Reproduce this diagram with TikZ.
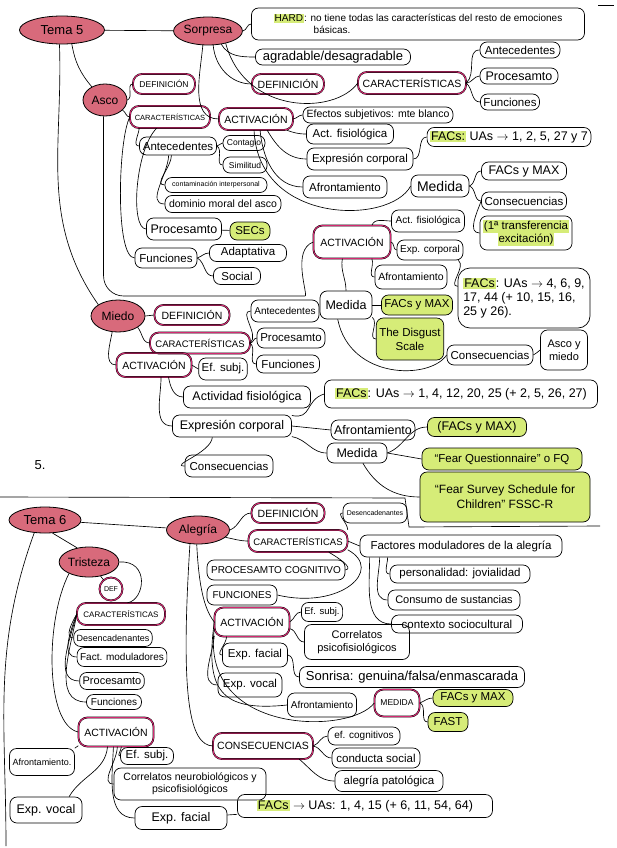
\documentclass[tikz,border=0pt]{standalone}
\usepackage{fontspec}
\setmainfont{Liberation Sans}
\usepackage{xcolor}
\usepackage{tikz}
\usetikzlibrary{shapes.geometric}
\definecolor{rojo}{HTML}{D86A7B}
\definecolor{rosa}{HTML}{D42A72}
\definecolor{lima}{HTML}{D6EC78}
\newcommand{\marca}[1]{{\setlength{\fboxsep}{1pt}\colorbox{lima}{#1}}}

\begin{document}
\begin{tikzpicture}[x=1pt,y=-1pt,
  caja/.style={draw,rounded corners=7pt,line width=0.7pt,inner xsep=3pt,inner ysep=1.5pt,minimum height=16pt,align=center,font=\fontsize{11.5}{13}\selectfont},
  titulo/.style={caja,double=rosa,double distance=1pt,line width=0.4pt,rounded corners=9pt,font=\fontsize{10.5}{12}\selectfont},
  emocion/.style={ellipse,draw,fill=rojo,line width=0.8pt,inner sep=0pt,font=\fontsize{12}{13}\selectfont},
  verde/.style={caja,fill=lima},
  justa/.style={font=\fontsize{10}{11}\selectfont},
  chica/.style={font=\fontsize{8.5}{10}\selectfont},
  mini/.style={font=\fontsize{7}{8}\selectfont},
  grande/.style={font=\fontsize{12.5}{14}\selectfont},
  rama/.style={line width=0.65pt}]
\fill[white] (0,0) rectangle (617,848);
\useasboundingbox (0,0) rectangle (617,848);

\node[emocion,minimum width=85,minimum height=28,font=\fontsize{13}{14}\selectfont] (t5) at (62,30) {Tema 5};
\node[emocion,minimum width=68,minimum height=28] (sorp) at (208,31) {Sorpresa};
\node[emocion,minimum width=44,minimum height=32] (asco) at (105,100) {Asco};
\node[emocion,minimum width=54,minimum height=32] (miedo) at (118,316) {Miedo};

\node[caja,minimum width=333,minimum height=32,align=left,font=\fontsize{10}{12}\selectfont] (hard) at (418,24) {\marca{HARD}: no tiene todas las características del resto de emociones\\\hspace*{4em}básicas.};
\node[caja,minimum width=155,font=\fontsize{13}{14}\selectfont] (agr) at (333,57) {agradable/desagradable};
\node[titulo,minimum width=72,minimum height=20] (sDef) at (288,84) {DEFINICIÓN};
\node[titulo,minimum width=108,minimum height=22] (sCar) at (412,83) {CARACTERÍSTICAS};
\node[caja,minimum width=80] (sAnt) at (520,50) {Antecedentes};
\node[caja,minimum width=78,grande] (sPro) at (519,76) {Procesamto};
\node[caja,minimum width=56] (sFun) at (510,102) {Funciones};
\node[titulo,minimum width=74,minimum height=22] (sAct) at (256,119) {ACTIVACIÓN};
\node[caja,minimum width=150,font=\fontsize{10.5}{12}\selectfont] (sEfe) at (378,115) {Efectos subjetivos: mte blanco};
\node[caja,minimum width=87,minimum height=20] (sFis) at (350,134) {Act. fisiológica};
\node[caja,minimum width=106,minimum height=22] (sExp) at (360,159) {Expresión corporal};
\node[caja,minimum width=84,minimum height=22] (sAfr) at (345,187) {Afrontamiento};
\node[caja,minimum width=162,minimum height=19,grande] (sFacs) at (509,137) {\marca{FACs:} UAs $\to$ 1, 2, 5, 27 y 7};
\node[caja,minimum width=58,minimum height=22,font=\fontsize{14}{15}\selectfont] (sMed) at (440,186) {Medida};
\node[caja,minimum width=85,minimum height=18,grande] (sMax) at (524,171) {FACs y MAX};
\node[caja,minimum width=85,minimum height=18] (sCon) at (524,201) {Consecuencias};
\node[caja,minimum width=88,minimum height=34] (sTra) at (526,233) {\marca{(1ª transferencia}\\\marca{excitación)}};

\node[titulo,minimum width=62,minimum height=20,chica] (aDef) at (164,84) {DEFINICIÓN};
\node[titulo,minimum width=80,minimum height=22,font=\fontsize{7.5}{8.5}\selectfont] (aCar) at (170,117) {CARACTERÍSTICAS};
\node[caja,minimum width=77,minimum height=18] (aAnt) at (178,146) {Antecedentes};
\node[caja,minimum width=42,minimum height=15,chica] (aCont) at (244,143) {Contagio};
\node[caja,minimum width=44,minimum height=16,chica] (aSim) at (245,165) {Similitud};
\node[caja,minimum width=102,minimum height=15,mini] (aCtm) at (216,185) {contaminación interpersonal};
\node[caja,minimum width=116,minimum height=17,font=\fontsize{10.5}{12}\selectfont] (aDom) at (223,204) {dominio moral del asco};
\node[caja,minimum width=75,minimum height=22,grande] (aPro) at (184,229) {Procesamto};
\node[verde,minimum width=40,minimum height=18] (aSecs) at (250,231) {SECs};
\node[caja,minimum width=62,minimum height=20] (aFun) at (166,258) {Funciones};
\node[caja,minimum width=77,minimum height=17] (aAda) at (248,253) {Adaptativa};
\node[caja,minimum width=47,minimum height=17] (aSoc) at (237,276) {Social};
\node[titulo,minimum width=77,minimum height=33] (aAct) at (352,242) {ACTIVACIÓN};
\node[caja,minimum width=73,minimum height=22,justa] (aFis) at (428,221) {Act. fisiológica};
\node[caja,minimum width=66,minimum height=20,justa] (aExp) at (430,250) {Exp. corporal};
\node[caja,minimum width=72,minimum height=24,font=\fontsize{10.5}{12}\selectfont] (aAfr) at (411,277) {Afrontamiento};
\node[caja,minimum width=52,minimum height=28,grande] (aMed) at (346,305) {Medida};
\node[caja,minimum width=132,minimum height=60,align=left,grande,rounded corners=12pt] (aFacs) at (524,298) {\marca{FACs}: UAs $\to$ 4, 6, 9,\\17, 44 (+ 10, 15, 16,\\25 y 26).};
\node[verde,minimum width=70,minimum height=20] (aMax) at (417,305) {FACs y MAX};
\node[verde,minimum width=65,minimum height=42,font=\fontsize{11.5}{14}\selectfont] (aDis) at (410,339) {The Disgust\\Scale};
\node[caja,minimum width=86,minimum height=20] (aCon) at (490,355) {Consecuencias};
\node[caja,minimum width=47,minimum height=40,font=\fontsize{11}{13}\selectfont] (aAym) at (564,350) {Asco y\\miedo};

\node[titulo,minimum width=75,minimum height=20] (mDef) at (192,315) {DEFINICIÓN};
\node[titulo,minimum width=100,minimum height=21,font=\fontsize{9.5}{11}\selectfont] (mCar) at (200,343) {CARACTERÍSTICAS};
\node[titulo,minimum width=75,minimum height=24] (mAct) at (154,365) {ACTIVACIÓN};
\node[caja,minimum width=68,minimum height=22,justa] (mAnt) at (285,311) {Antecedentes};
\node[caja,minimum width=68,minimum height=20] (mPro) at (291,338) {Procesamto};
\node[caja,minimum width=63,minimum height=18] (mFun) at (288,364) {Funciones};
\node[caja,minimum width=47,minimum height=22] (mEfs) at (223,369) {Ef. subj.};
\node[caja,minimum width=127,minimum height=22,grande] (mFis) at (247,397) {Actividad fisiológica};
\node[caja,minimum width=119,minimum height=22,grande] (mExp) at (232,426) {Expresión corporal};
\node[caja,minimum width=88,minimum height=22] (mCon) at (229,466) {Consecuencias};
\node[caja,minimum width=273,minimum height=28,font=\fontsize{12.5}{14}\selectfont] (mFacs) at (461,394) {\marca{FACs}: UAs $\to$ 1, 4, 12, 20, 25 (+ 2, 5, 26, 27)};
\node[caja,minimum width=83,minimum height=20,grande] (mAfr) at (373,430) {Afrontamiento};
\node[caja,minimum width=60,minimum height=20,grande] (mMed) at (357,453) {Medida};
\node[verde,minimum width=99,minimum height=19,grande] (mMax) at (477,427) {(FACs y MAX)};
\node[verde,minimum width=160,minimum height=22] (mFq) at (502,459) {“Fear Questionnaire” o FQ};
\node[verde,minimum width=170,minimum height=50,font=\fontsize{12}{15}\selectfont] (mFs) at (505,497) {“Fear Survey Schedule for\\Children” FSSC-R};
\node[font=\fontsize{13}{14}\selectfont] (num) at (40,465) {5.};

\node[emocion,minimum width=72,minimum height=26,font=\fontsize{13}{14}\selectfont] (t6) at (45,520) {Tema 6};
\node[emocion,minimum width=63,minimum height=28] (aleg) at (198,530) {Alegría};
\node[emocion,minimum width=58,minimum height=30] (tris) at (89,562) {Tristeza};

\node[titulo,minimum width=73,minimum height=20] (gDef) at (288,513) {DEFINICIÓN};
\node[caja,minimum width=64,minimum height=20,mini] (gDes) at (375,513) {Desencadenantes};
\node[titulo,minimum width=99,minimum height=22,font=\fontsize{9.5}{11}\selectfont] (gCar) at (298,541) {CARACTERÍSTICAS};
\node[caja,minimum width=202,minimum height=22,font=\fontsize{11.5}{13}\selectfont] (gFac) at (461,546) {Factores moduladores de la alegría};
\node[caja,minimum width=140,minimum height=18] (gPer) at (460,574) {personalidad: jovialidad};
\node[caja,minimum width=132,minimum height=20,font=\fontsize{11}{12}\selectfont] (gSus) at (454,600) {Consumo de sustancias};
\node[caja,minimum width=131,minimum height=18] (gCtx) at (457,624) {contexto sociocultural};
\node[caja,minimum width=138,minimum height=20,justa] (gPro) at (276,570) {PROCESAMTO COGNITIVO};
\node[caja,minimum width=70,minimum height=20,justa] (gFun) at (242,595) {FUNCIONES};
\node[titulo,minimum width=75,minimum height=29] (gAct) at (252,622) {ACTIVACIÓN};
\node[caja,minimum width=41,minimum height=19,font=\fontsize{9.5}{11}\selectfont] (gEfs) at (322,612) {Ef. subj.};
\node[caja,minimum width=105,minimum height=35,font=\fontsize{11}{12.5}\selectfont] (gCor) at (357,642) {Correlatos\\psicofisiológicos};
\node[caja,minimum width=65,minimum height=24] (gExf) at (255,655) {Exp. facial};
\node[caja,minimum width=64,minimum height=24] (gExv) at (250,685) {Exp. vocal};
\node[caja,minimum width=225,minimum height=21,font=\fontsize{13}{14}\selectfont] (gSon) at (412,677) {Sonrisa: genuina/falsa/enmascarada};
\node[caja,minimum width=69,minimum height=24,justa] (gAfr) at (322,705) {Afrontamiento};
\node[titulo,minimum width=45,minimum height=27,chica] (gMed) at (397,703) {MEDIDA};
\node[verde,minimum width=80,minimum height=17] (gMax) at (473,698) {FACs y MAX};
\node[verde,minimum width=40,minimum height=19] (gFast) at (448,722) {FAST};
\node[titulo,minimum width=100,minimum height=26] (gCsc) at (263,746) {CONSECUENCIAS};
\node[caja,minimum width=72,minimum height=18,justa] (gCog) at (364,736) {ef. cognitivos};
\node[caja,minimum width=88,minimum height=20] (gSoc) at (376,758) {conducta social};
\node[caja,minimum width=108,minimum height=21] (gPat) at (389,781) {alegría patológica};

\node[titulo,circle,minimum size=23,inner sep=0pt,mini] (tDef) at (111,589) {DEF};
\node[titulo,minimum width=88,minimum height=22,font=\fontsize{8}{9}\selectfont] (tCar) at (121,614) {CARACTERÍSTICAS};
\node[caja,minimum width=73,minimum height=17,font=\fontsize{9}{10}\selectfont] (tDes) at (113,638) {Desencadenantes};
\node[caja,minimum width=89,minimum height=19,justa] (tFac) at (122,657) {Fact. moduladores};
\node[caja,minimum width=63,minimum height=17,font=\fontsize{11}{12}\selectfont] (tPro) at (112,681) {Procesamto};
\node[caja,minimum width=55,minimum height=15,justa] (tFun) at (114,702) {Funciones};
\node[titulo,minimum width=75,minimum height=29] (tAct) at (116,732) {ACTIVACIÓN};
\node[caja,minimum width=53,minimum height=17] (tEfs) at (147,756) {Ef. subj.};
\node[caja,minimum width=152,minimum height=32,font=\fontsize{10.5}{12}\selectfont] (tCor) at (190,784) {Correlatos neurobiológicos y\\psicofisiológicos};
\node[caja,minimum width=92,minimum height=23,grande] (tExf) at (181,818) {Exp. facial};
\node[caja,minimum width=255,minimum height=23,font=\fontsize{12.5}{14}\selectfont] (tFacs) at (365,806) {\marca{FACs} $\to$ UAs: 1, 4, 15 (+ 6, 11, 54, 64)};
\node[caja,minimum width=65,minimum height=27,font=\fontsize{9}{10}\selectfont] (tAfr) at (42,762) {Afrontamiento.};
\node[caja,minimum width=72,minimum height=26,grande] (tExv) at (46,810) {Exp. vocal};
\coordinate (finT6) at (6,846);

\draw[rama] (t5) -- (sorp);
\draw[rama] (t5.-55) to[out=-80,in=130] (asco.135);
\draw[rama] (t5.-100) to[out=-88,in=125] (miedo.150);
\draw[rama] (sorp.east) to[out=10,in=180] (hard.west);
\draw[rama] (sorp.-45) to[out=-60,in=180] (agr.west);
\draw[rama] (sorp.-70) to[out=-85,in=180] (sDef.west);
\draw[rama] (sorp.-35) .. controls (245,115) and (335,115) .. (sCar.west);
\draw[rama] (sorp.-110) to[out=-95,in=180] (sAct.west);
\draw[rama] (sCar.east) to[out=40,in=180] (sAnt.west);
\draw[rama] (sCar.east) to[out=0,in=180] (sPro.west);
\draw[rama] (sCar.east) to[out=-40,in=180] (sFun.west);
\draw[rama] (sAct.east) to[out=10,in=180] (sEfe.west);
\draw[rama] (sAct.-20) to[out=-20,in=180] (sFis.west);
\draw[rama] (sAct.-45) to[out=-60,in=180] (sExp.west);
\draw[rama] (sAct.-70) to[out=-85,in=180] (sAfr.west);
\draw[rama] (sAct.-100) .. controls (258,225) and (390,225) .. (sMed.west);
\draw[rama] (sExp.east) to[out=0,in=180] (sFacs.west);
\draw[rama] (sMed.east) to[out=20,in=180] (sMax.west);
\draw[rama] (sMed.east) to[out=-20,in=180] (sCon.west);
\draw[rama] (sCon.west) to[out=-110,in=180] (sTra.west);

\draw[rama] (asco.east) to[out=20,in=180] (aDef.west);
\draw[rama] (asco.-30) to[out=-30,in=180] (aCar.west);
\draw[rama,rounded corners=20pt] (asco.-95) |- (285,296) to[out=0,in=200] (aAct.west);
\draw[rama] (aCar.200) to[out=-95,in=180] (aAnt.west);
\draw[rama] (aCar.220) .. controls (135,150) and (130,229) .. (aPro.west);
\draw[rama] (aCar.west) .. controls (118,140) and (115,258) .. (aFun.west);
\draw[rama] (aAnt.east) to[out=0,in=180] (aCont.west);
\draw[rama] (aAnt.east) to[out=-30,in=180] (aSim.west);
\draw[rama] (aAnt.-125) to[out=-90,in=180] (aCtm.west);
\draw[rama] (aAnt.-135) to[out=-92,in=180] (aDom.west);
\draw[rama] (aPro) -- (aSecs);
\draw[rama] (aFun.east) to[out=20,in=180] (aAda.west);
\draw[rama] (aFun.east) to[out=-30,in=180] (aSoc.west);
\draw[rama] (aAct.40) to[out=70,in=180] (aFis.west);
\draw[rama] (aAct.east) to[out=0,in=180] (aExp.west);
\draw[rama] (aAct.-40) to[out=-70,in=180] (aAfr.west);
\draw[rama] (aAct.-120) to[out=-100,in=90] (aMed.north);
\draw[rama] (aExp.-20) to[out=-40,in=180] (aFacs.170);
\draw[rama] (aMed.east) -- (aMax.west);
\draw[rama] (aMed.-25) to[out=-40,in=180] (aDis.west);
\draw[rama] (aMed.-120) .. controls (350,380) and (430,380) .. (aCon.west);
\draw[rama] (aCon.east) to[out=10,in=200] (aAym.west);

\draw[rama] (miedo.east) -- (mDef.west);
\draw[rama] (miedo.-30) to[out=-50,in=180] (mCar.west);
\draw[rama] (miedo.-110) to[out=-100,in=180] (mAct.west);
\draw[rama] (mCar.east) to[out=40,in=180] (mAnt.west);
\draw[rama] (mCar.east) to[out=0,in=180] (mPro.west);
\draw[rama] (mCar.east) to[out=-40,in=180] (mFun.west);
\draw[rama] (mAct.east) -- (mEfs.west);
\draw[rama] (mAct.-40) to[out=-80,in=180] (mFis.west);
\draw[rama] (mAct.-60) to[out=-90,in=180] (mExp.west);
\draw[rama] (mExp.-150) to[out=-95,in=180] (mCon.west);
\draw[rama] (mExp.10) .. controls (312,420) and (305,400) .. (mFacs.west);
\draw[rama] (mExp.east) -- (mAfr.west);
\draw[rama] (mExp.-10) to[out=-10,in=180] (mMed.west);
\draw[rama] (mMed.east) to[out=20,in=180] (mMax.west);
\draw[rama] (mMed.east) -- (mFq.west);
\draw[rama] (mMed.-60) to[out=-60,in=180] (mFs.west);

\draw[rama] (0,497) -- (405,498) -- (409,527) -- (600,526);
\draw[rama] (598,5) -- (614,5);

\draw[rama] (t6) -- (aleg);
\draw[rama] (t6.-60) -- (tris.130);
\draw[rama] (t6.-130) to[out=-110,in=90] (finT6);
\draw[rama] (tris) -- (tDef);
\draw[rama] (tris.east) .. controls (150,560) and (145,600) .. (tCar.60);
\draw[rama] (tris.-150) .. controls (45,620) and (45,725) .. (tAct.west);
\draw[rama] (tCar.west) to[out=-120,in=180] (tDes.west);
\draw[rama] (tCar.west) to[out=-110,in=180] (tFac.west);
\draw[rama] (tCar.west) to[out=-105,in=180] (tPro.west);
\draw[rama] (tCar.west) to[out=-100,in=180] (tFun.west);
\draw[rama] (tAct.-70) to[out=-90,in=180] (tEfs.west);
\draw[rama] (tAct.-85) to[out=-90,in=180] (tCor.west);
\draw[rama] (tAct.-100) to[out=-92,in=180] (tExf.west);
\draw[rama] (tAct.200) -- (tAfr.north east);
\draw[rama] (tAct.-120) to[out=-95,in=60] (tExv.30);
\draw[rama] (tExf) -- (tFacs);

\draw[rama] (aleg.east) to[out=20,in=180] (gDef.west);
\draw[rama] (aleg.-15) to[out=-10,in=180] (gCar.west);
\draw[rama] (aleg.-95) .. controls (199,590) and (205,610) .. (gAct.west);
\draw[rama] (aleg.-120) .. controls (180,700) and (190,745) .. (gCsc.west);
\draw[rama] (gCar.north east) to[out=90,in=180] (gDes.west);
\draw[rama] (gCar.east) -- (gFac.west);
\draw[rama] (gCar.-20) to[out=-30,in=10] (gPro.east);
\draw[rama] (gCar.-10) .. controls (385,570) and (340,610) .. (gFun.east);
\draw[rama] ([xshift=28pt]gFac.south west) to[out=-90,in=180] (gPer.west);
\draw[rama] ([xshift=20pt]gFac.south west) to[out=-90,in=180] (gSus.west);
\draw[rama] ([xshift=10pt]gFac.south west) to[out=-90,in=180] (gCtx.west);
\draw[rama] (gAct.east) to[out=30,in=180] (gEfs.west);
\draw[rama] (gAct.-10) to[out=-10,in=180] (gCor.west);
\draw[rama] (gAct.-150) to[out=-90,in=180] (gExf.west);
\draw[rama] (gAct.-160) to[out=-95,in=180] (gExv.west);
\draw[rama] (gAct.west) .. controls (205,690) and (220,712) .. (gAfr.west);
\draw[rama] (gAct.190) .. controls (200,735) and (350,735) .. (gMed.west);
\draw[rama] (gExf.east) to[out=-10,in=180] (gSon.west);
\draw[rama] (gMed.east) to[out=20,in=180] (gMax.west);
\draw[rama] (gMed.east) to[out=-20,in=180] (gFast.west);
\draw[rama] (gCsc.east) to[out=20,in=180] (gCog.west);
\draw[rama] (gCsc.east) to[out=-10,in=180] (gSoc.west);
\draw[rama] (gCsc.-20) to[out=-40,in=180] (gPat.west);
\end{tikzpicture}
\end{document}
